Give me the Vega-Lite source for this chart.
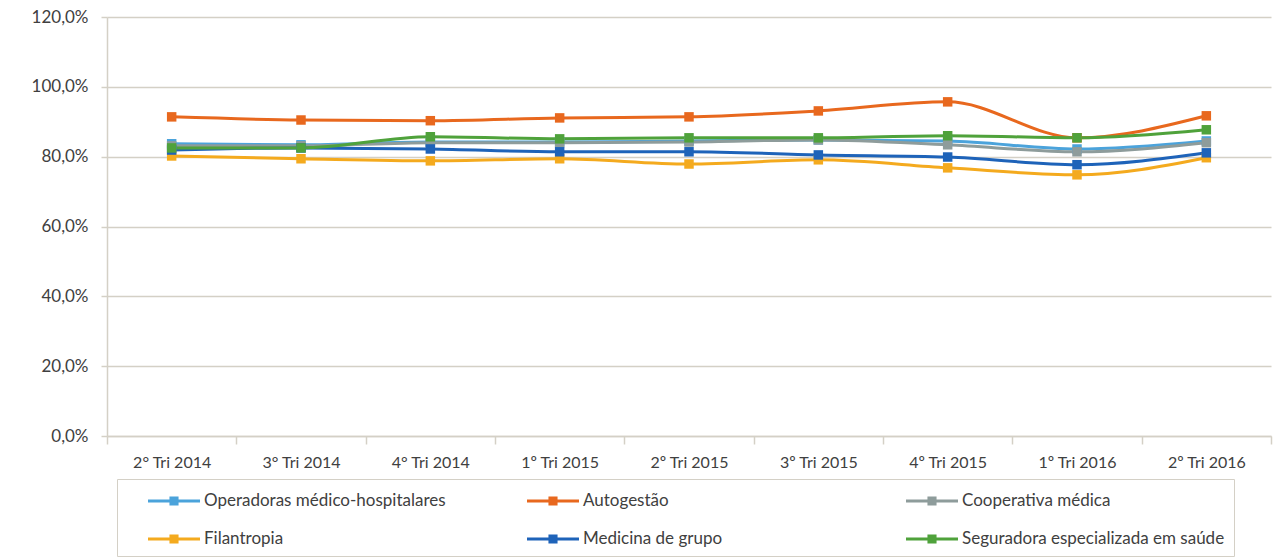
{
  "$schema": "https://vega.github.io/schema/vega-lite/v6.json",
  "width": 1164,
  "height": 419,
  "padding": {"left": 31, "top": 8, "right": 8, "bottom": 2},
  "background": "white",
  "config": {
    "locale": {"number": {"decimal": ",", "thousands": ".", "grouping": [3], "currency": ["R$", ""]}},
    "view": {"stroke": null},
    "font": "Lato"
  },
  "datasets": {
    "main": [
      {"q": "2° Tri 2014", "s": "Operadoras médico-hospitalares", "v": 0.837},
      {"q": "3° Tri 2014", "s": "Operadoras médico-hospitalares", "v": 0.834},
      {"q": "4° Tri 2014", "s": "Operadoras médico-hospitalares", "v": 0.842},
      {"q": "1º Tri 2015", "s": "Operadoras médico-hospitalares", "v": 0.842},
      {"q": "2º Tri 2015", "s": "Operadoras médico-hospitalares", "v": 0.845},
      {"q": "3º Tri 2015", "s": "Operadoras médico-hospitalares", "v": 0.848},
      {"q": "4º Tri 2015", "s": "Operadoras médico-hospitalares", "v": 0.845},
      {"q": "1º Tri 2016", "s": "Operadoras médico-hospitalares", "v": 0.822},
      {"q": "2º Tri 2016", "s": "Operadoras médico-hospitalares", "v": 0.845},
      {"q": "2° Tri 2014", "s": "Autogestão", "v": 0.914},
      {"q": "3° Tri 2014", "s": "Autogestão", "v": 0.905},
      {"q": "4° Tri 2014", "s": "Autogestão", "v": 0.903},
      {"q": "1º Tri 2015", "s": "Autogestão", "v": 0.911},
      {"q": "2º Tri 2015", "s": "Autogestão", "v": 0.914},
      {"q": "3º Tri 2015", "s": "Autogestão", "v": 0.931},
      {"q": "4º Tri 2015", "s": "Autogestão", "v": 0.957},
      {"q": "1º Tri 2016", "s": "Autogestão", "v": 0.854},
      {"q": "2º Tri 2016", "s": "Autogestão", "v": 0.917},
      {"q": "2° Tri 2014", "s": "Cooperativa médica", "v": 0.831},
      {"q": "3° Tri 2014", "s": "Cooperativa médica", "v": 0.831},
      {"q": "4° Tri 2014", "s": "Cooperativa médica", "v": 0.840},
      {"q": "1º Tri 2015", "s": "Cooperativa médica", "v": 0.840},
      {"q": "2º Tri 2015", "s": "Cooperativa médica", "v": 0.842},
      {"q": "3º Tri 2015", "s": "Cooperativa médica", "v": 0.848},
      {"q": "4º Tri 2015", "s": "Cooperativa médica", "v": 0.834},
      {"q": "1º Tri 2016", "s": "Cooperativa médica", "v": 0.814},
      {"q": "2º Tri 2016", "s": "Cooperativa médica", "v": 0.840},
      {"q": "2° Tri 2014", "s": "Filantropia", "v": 0.802},
      {"q": "3° Tri 2014", "s": "Filantropia", "v": 0.794},
      {"q": "4° Tri 2014", "s": "Filantropia", "v": 0.788},
      {"q": "1º Tri 2015", "s": "Filantropia", "v": 0.794},
      {"q": "2º Tri 2015", "s": "Filantropia", "v": 0.779},
      {"q": "3º Tri 2015", "s": "Filantropia", "v": 0.791},
      {"q": "4º Tri 2015", "s": "Filantropia", "v": 0.768},
      {"q": "1º Tri 2016", "s": "Filantropia", "v": 0.748},
      {"q": "2º Tri 2016", "s": "Filantropia", "v": 0.797},
      {"q": "2° Tri 2014", "s": "Medicina de grupo", "v": 0.819},
      {"q": "3° Tri 2014", "s": "Medicina de grupo", "v": 0.825},
      {"q": "4° Tri 2014", "s": "Medicina de grupo", "v": 0.822},
      {"q": "1º Tri 2015", "s": "Medicina de grupo", "v": 0.814},
      {"q": "2º Tri 2015", "s": "Medicina de grupo", "v": 0.814},
      {"q": "3º Tri 2015", "s": "Medicina de grupo", "v": 0.805},
      {"q": "4º Tri 2015", "s": "Medicina de grupo", "v": 0.799},
      {"q": "1º Tri 2016", "s": "Medicina de grupo", "v": 0.777},
      {"q": "2º Tri 2016", "s": "Medicina de grupo", "v": 0.811},
      {"q": "2° Tri 2014", "s": "Seguradora especializada em saúde", "v": 0.825},
      {"q": "3° Tri 2014", "s": "Seguradora especializada em saúde", "v": 0.825},
      {"q": "4° Tri 2014", "s": "Seguradora especializada em saúde", "v": 0.857},
      {"q": "1º Tri 2015", "s": "Seguradora especializada em saúde", "v": 0.851},
      {"q": "2º Tri 2015", "s": "Seguradora especializada em saúde", "v": 0.854},
      {"q": "3º Tri 2015", "s": "Seguradora especializada em saúde", "v": 0.854},
      {"q": "4º Tri 2015", "s": "Seguradora especializada em saúde", "v": 0.860},
      {"q": "1º Tri 2016", "s": "Seguradora especializada em saúde", "v": 0.854},
      {"q": "2º Tri 2016", "s": "Seguradora especializada em saúde", "v": 0.877}
    ]
  },
  "data": {"name": "main"},
  "encoding": {
    "x": {
      "field": "q", "type": "nominal", "sort": null,
      "scale": {"paddingInner": 0, "paddingOuter": 0},
      "axis": {
        "title": null, "labelAngle": 0, "tickBand": "extent",
        "labelFontSize": 16, "labelColor": "#404040", "labelPadding": 10,
        "domainColor": "#D4D0C6", "domainWidth": 1.5, "tickColor": "#D4D0C6", "tickSize": 8, "tickWidth": 1.5,
        "grid": false
      }
    },
    "y": {
      "field": "v", "type": "quantitative",
      "scale": {"domain": [0, 1.2], "nice": false},
      "axis": {
        "title": null, "format": ".1%", "values": [0, 0.2, 0.4, 0.6, 0.8, 1.0, 1.2],
        "labelFontSize": 17, "labelColor": "#404040", "labelPadding": 13,
        "domainColor": "#D4D0C6", "domainWidth": 1.5, "tickColor": "#D4D0C6", "tickSize": 6, "tickWidth": 1.5,
        "gridColor": "#D4D0C6", "gridWidth": 1.5
      }
    },
    "color": {
      "field": "s", "type": "nominal",
      "scale": {
        "domain": ["Operadoras médico-hospitalares", "Autogestão", "Cooperativa médica", "Filantropia", "Medicina de grupo", "Seguradora especializada em saúde"],
        "range": ["#4BA3DB", "#E8681E", "#8E9C9B", "#F4AA1E", "#1E63B9", "#4FA23B"]
      },
      "legend": {
        "title": " ", "titleOrient": "left", "titlePadding": 22, "titleFontSize": 2,
        "orient": "none", "legendX": 10, "legendY": 462,
        "direction": "horizontal", "columns": 3, "gridAlign": "all", "columnPadding": 60, "rowPadding": 17,
        "symbolType": "M-1,-0.115H0.65V-0.35H1.35V-0.115H3V0.115H1.35V0.35H0.65V0.115H-1Z",
        "symbolSize": 676, "symbolStrokeWidth": 0, "symbolOpacity": 1,
        "labelFontSize": 17, "labelColor": "#404040", "labelOffset": 30,
        "strokeColor": "#D4D0C6", "padding": 9,
        "labelLimit": 500
      }
    }
  },
  "layer": [
    {"mark": {"type": "line", "interpolate": "monotone", "strokeWidth": 3}},
    {"mark": {"type": "point", "shape": "square", "filled": true, "size": 90, "opacity": 1}}
  ]
}
